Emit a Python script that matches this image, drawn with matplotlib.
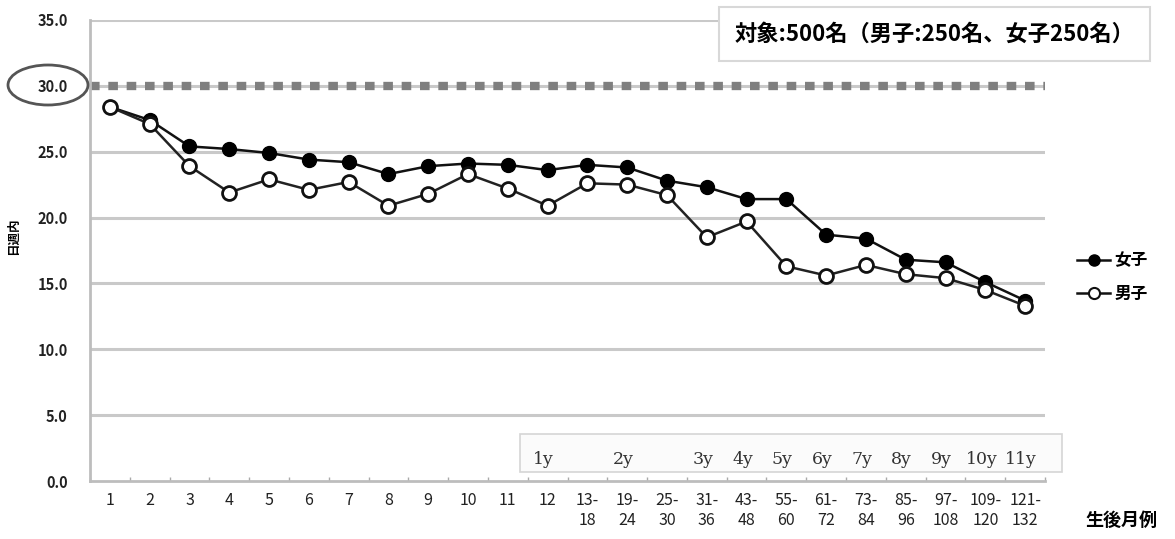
import matplotlib
matplotlib.use("Agg")
import matplotlib.pyplot as plt
from matplotlib.patches import Ellipse, Rectangle
from matplotlib.lines import Line2D
import numpy as np

plt.rcParams["font.family"] = ["Noto Sans CJK JP", "DejaVu Sans"]

# 24 measurement points (months after birth)
girls = [28.4, 27.4, 25.4, 25.2, 24.9, 24.4, 24.2, 23.3, 23.9, 24.1, 24.0, 23.6,
         24.0, 23.8, 22.8, 22.3, 21.4, 21.4, 18.7, 18.4, 16.8, 16.6, 15.1, 13.7]
boys = [28.4, 27.1, 23.9, 21.9, 22.9, 22.1, 22.7, 20.9, 21.8, 23.3, 22.2, 20.9,
        22.6, 22.5, 21.7, 18.5, 19.7, 16.3, 15.6, 16.4, 15.7, 15.4, 14.5, 13.3]
reference_value = 30.0

month_labels = ["1", "2", "3", "4", "5", "6", "7", "8", "9", "10", "11", "12",
                "13-\n18", "19-\n24", "25-\n30", "31-\n36", "43-\n48", "55-\n60",
                "61-\n72", "73-\n84", "85-\n96", "97-\n108", "109-\n120", "121-\n132"]
year_labels = ["1y", "2y", "3y", "4y", "5y", "6y", "7y", "8y", "9y", "10y", "11y"]
year_index = [11, 13, 15, 16, 17, 18, 19, 20, 21, 22, 23]

y_ticks = [0, 5, 10, 15, 20, 25, 30, 35]

fig = plt.figure(figsize=(11.75, 5.39), dpi=100)
ax = fig.add_axes([0.0766, 0.1076, 0.8128, 0.8554])

x = np.arange(len(girls))
ax.set_xlim(-0.45, 23.43)
ax.set_ylim(0, 35)

grid_c = "#c9c9c9"
for yv in y_ticks[1:]:
    ax.axhline(yv, color=grid_c, lw=2.2, zorder=0)
ax.axhline(reference_value, color="#7f7f7f", lw=6, ls=(0, (1.15, 1.05)), zorder=1)

ax.plot(x, girls, color="#111111", lw=1.8, marker="o", ms=10,
        mfc="#000000", mec="#000000", zorder=3)
ax.plot(x, boys, color="#222222", lw=1.8, marker="o", ms=10,
        mfc="white", mec="#111111", mew=2, zorder=4)

for s in ["top", "right"]:
    ax.spines[s].set_visible(False)
for s in ["left", "bottom"]:
    ax.spines[s].set_color("#bdbdbd")
    ax.spines[s].set_linewidth(2)

ax.set_yticks(y_ticks)
ax.set_yticklabels([f"{v:.1f}" for v in y_ticks], fontsize=10.5, fontweight="bold",
                   color="#222222")
ax.tick_params(axis="y", length=0, pad=16)

ax.set_xticks(x)
ax.set_xticklabels(month_labels, fontsize=11.5, color="#222222", va="top",
                   linespacing=1.25)
ax.tick_params(axis="x", which="major", length=0, pad=8)
ax.set_xticks(np.arange(-0.5, 23.6, 0.5), minor=True)
ax.tick_params(axis="x", which="minor", direction="in", length=3, width=1,
               color="#aaaaaa")

ax.set_ylabel("日週内", fontsize=9, fontweight="bold")
ax.yaxis.set_label_coords(-0.073, 0.53)

# year markers
ax.add_patch(Rectangle((0.45, 0.02), 0.568, 0.082, transform=ax.transAxes,
                       facecolor="#fbfbfb", edgecolor="#d5d5d5", lw=1.2,
                       clip_on=False, zorder=1))
for xi, t in zip(year_index, year_labels):
    ax.text(xi - 0.1, 1.65, t, fontsize=12.5, ha="center", va="center",
            family="DejaVu Serif", color="#333333", zorder=2)

# circled reference label
fig.add_artist(Ellipse((48 / 1175, 1 - 85 / 539), 80 / 1175, 40 / 539,
                       transform=fig.transFigure, fill=False,
                       edgecolor="#555555", lw=2))

fig.text(735 / 1175, 1 - 34 / 539, "対象:500名（男子:250名、女子250名）",
         fontsize=16, fontweight="bold", va="center", ha="left",
         bbox=dict(boxstyle="square,pad=0.7", fc="white", ec="#d8d8d8", lw=1.5))

fig.text(1085 / 1175, 1 - 520 / 539, "生後月例", fontsize=13, fontweight="bold",
         va="center", ha="left")

handles = [
    Line2D([], [], color="#111111", lw=1.8, marker="o", ms=8, mfc="black",
           mec="black"),
    Line2D([], [], color="#111111", lw=1.8, marker="o", ms=8, mfc="white",
           mec="#111111", mew=1.5),
]
fig.legend(handles, ["女子", "男子"], loc="center left",
           bbox_to_anchor=(1062 / 1175, 1 - 277 / 539), frameon=False,
           handlelength=2.0, handletextpad=0.25, labelspacing=0.9,
           prop={"weight": "bold", "size": 12})

fig.savefig("out.png", dpi=100)
